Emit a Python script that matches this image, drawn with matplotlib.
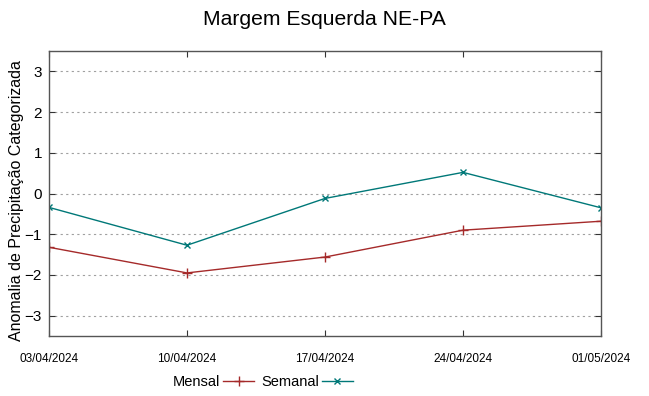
import numpy as np
import pandas as pd
import matplotlib
matplotlib.use('Agg')
import matplotlib.pyplot as plt
import matplotlib.dates as mdates

plt.rcParams['font.family'] = ['Liberation Sans', 'DejaVu Sans']

datas = pd.to_datetime(['2024-04-03', '2024-04-10', '2024-04-17', '2024-04-24', '2024-05-01'])
mensal = [-1.32, -1.95, -1.56, -0.90, -0.68]
semanal = [-0.34, -1.27, -0.12, 0.52, -0.35]

fig = plt.figure(figsize=(6.49, 3.96), dpi=100)
ax = fig.add_axes([0.0755, 0.1515, 0.8505, 0.7195])

ax.plot(datas, mensal, color='#a52a2a', lw=1, marker='+', ms=7, mew=1, label='Mensal')
ax.plot(datas, semanal, color='#007878', lw=1, marker='x', ms=5, mew=1, label='Semanal')

ax.set_xlim(datas[0], datas[-1])
ax.set_ylim(-3.5, 3.5)
ax.set_yticks(range(-3, 4))
ax.set_xticks(datas)
ax.xaxis.set_major_formatter(mdates.DateFormatter('%d/%m/%Y'))

ax.yaxis.grid(True, linestyle=(0, (2, 3)), color='#a0a0a0', lw=0.8)
ax.tick_params(direction='in', top=True, right=True, length=4, color='#333333')
ax.tick_params(axis='y', labelsize=11, pad=5)
ax.tick_params(axis='x', labelsize=8.5, pad=12)
for s in ax.spines.values():
    s.set_color('#555555')
    s.set_linewidth(1)

ax.set_ylabel('Anomalia de Precipitação Categorizada', fontsize=11.5)
ax.yaxis.set_label_coords(-0.045, 0.474)
fig.suptitle('Margem Esquerda NE-PA', fontsize=15.2, y=0.975)

fig.legend(loc='center', bbox_to_anchor=(0.405, 0.035), ncol=2, frameon=False,
           markerfirst=False, handlelength=2.1, columnspacing=0.5,
           handletextpad=0.2, fontsize=10.5)

plt.savefig('out.png', dpi=100)
